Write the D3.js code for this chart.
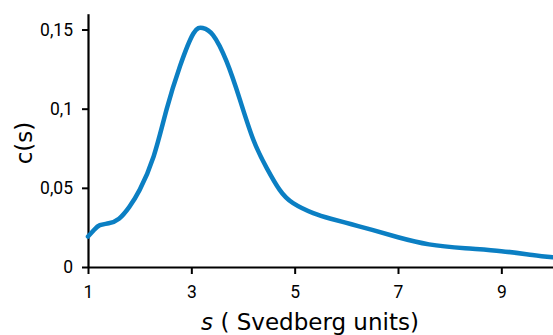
<!DOCTYPE html>
<html>
<head>
<meta charset="utf-8">
<script src="https://cdn.jsdelivr.net/npm/d3@7"></script>
<style>
  body { margin: 0; background: #fff; }
  svg { display: block; }
  .label { font-family: "DejaVu Sans", Verdana, sans-serif; font-size: 23px; fill: #000; }
</style>
</head>
<body>
<svg id="chart" width="553" height="335"></svg>
<script>
// sedimentation coefficient (Svedberg units) and c(s)
var sValues = [1.0, 1.12, 1.23, 1.4, 1.6, 1.8, 2.0, 2.27, 2.52, 2.78, 3.04, 3.22, 3.42, 3.68, 3.94, 4.2, 4.46, 4.71, 4.97, 5.36, 5.7, 6.1, 6.5, 7.0, 7.6, 8.3, 9.0, 9.6, 10.0]
var cValues = [0.0192, 0.0235, 0.0264, 0.0276, 0.0305, 0.0380, 0.0487, 0.0698, 0.0994, 0.1268, 0.1475, 0.1510, 0.1465, 0.1300, 0.1057, 0.0804, 0.0625, 0.0487, 0.0403, 0.0340, 0.0305, 0.0270, 0.0234, 0.0188, 0.0143, 0.0118, 0.0100, 0.0076, 0.0061]

var xTicks = [1, 3, 5, 7, 9]
var yTicks = [0, 0.05, 0.1, 0.15]
var yTickLabels = ['0', '0,05', '0,1', '0,15']

var svg = d3.select('#chart')

var x = d3.scaleLinear().domain([1, 10]).range([88, 553])
var y = d3.scaleLinear().domain([0, 0.16]).range([267, 13.7])

var data = sValues.map((s, i) => ({s: s, c: cValues[i]}))

// axes
var xAxis = d3.axisBottom(x)
  .tickValues(xTicks)
  .tickFormat(d3.format('d'))
  .tickSize(7)
  .tickPadding(12)
  .tickSizeOuter(0)

var yAxis = d3.axisLeft(y)
  .tickValues(yTicks)
  .tickFormat((d, i) => yTickLabels[i])
  .tickSize(6)
  .tickPadding(9)
  .tickSizeOuter(0)

var gx = svg.append('g')
  .attr('transform', `translate(0,${y(0)})`)
  .call(xAxis)

var gy = svg.append('g')
  .attr('transform', `translate(${x(1)},0)`)
  .call(yAxis)

;[gx, gy].forEach(g => {
  g.attr('font-family', 'Roboto, "DejaVu Sans Condensed", sans-serif')
    .attr('font-size', 17.5)
  g.selectAll('path.domain').attr('stroke', '#000').attr('stroke-width', 2.2)
  g.selectAll('.tick line').attr('stroke', '#000').attr('stroke-width', 2)
  g.selectAll('.tick text').attr('fill', '#000')
})

// curve
var line = d3.line()
  .x(d => x(d.s))
  .y(d => y(d.c))
  .curve(d3.curveNatural)

svg.append('path')
  .datum(data)
  .attr('fill', 'none')
  .attr('stroke', '#0b7fc3')
  .attr('stroke-width', 4.5)
  .attr('stroke-linecap', 'round')
  .attr('d', line)

// axis titles
svg.append('text')
  .attr('class', 'label')
  .attr('transform', 'translate(32,143) rotate(-90)')
  .attr('text-anchor', 'middle')
  .text('c(s)')

var xt = svg.append('text')
  .attr('class', 'label')
  .attr('x', 310)
  .attr('y', 330)
  .attr('text-anchor', 'middle')
xt.append('tspan').attr('font-style', 'italic').text('s')
xt.append('tspan').text(' ( Svedberg units)')
</script>
</body>
</html>
